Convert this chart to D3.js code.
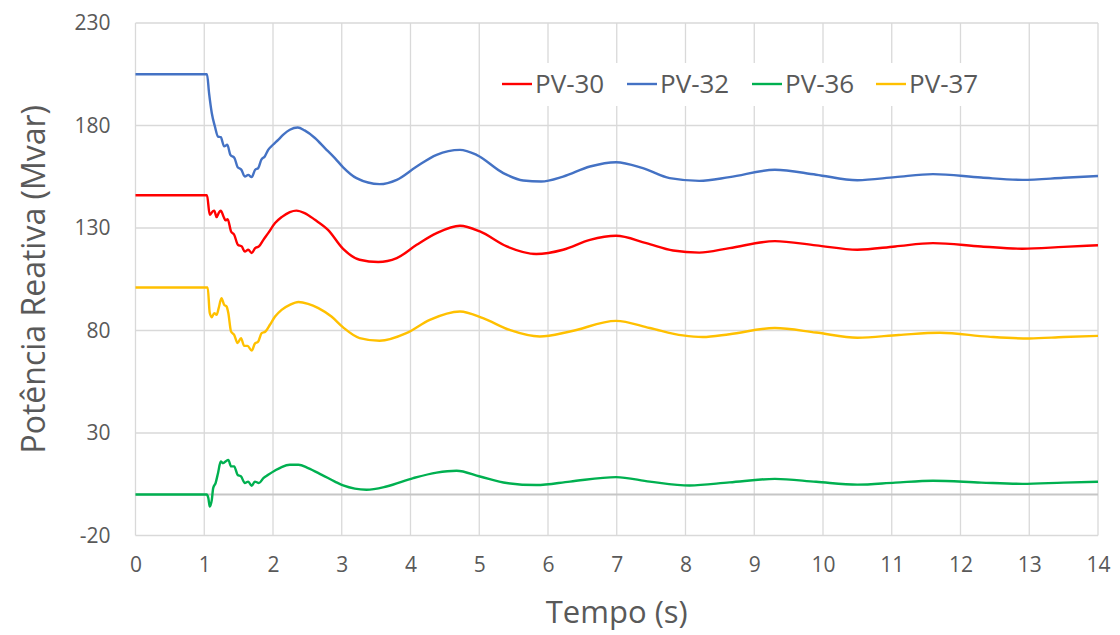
<!DOCTYPE html>
<html lang="pt">
<meta charset="UTF-8">
<style>
    body { margin:0; background:#fff; overflow:hidden; }
    svg { display:block; }
    .grid line { stroke:#d9d9d9; stroke-width:1.3; }
    .axis text { fill:#595959; }
    text.title { fill:#595959; font-family:"Open Sans",sans-serif; }
    text.legend { fill:#595959; font-family:"Open Sans",sans-serif; font-size:26px; }
    .series { fill:none; stroke-width:2.4; stroke-linejoin:round; }
</style>
<body>
<div id="chart"></div>
<script src="https://cdn.jsdelivr.net/npm/d3@7"></script>
<script>
    // tick values
    var xTicks = d3.range(0, 15);
    var yTicks = [-20, 30, 80, 130, 180, 230];

    var seriesNames = ["PV-30", "PV-32", "PV-36", "PV-37"];
    var seriesColors = ["#ff0000", "#4472c4", "#00b050", "#ffc000"];

    // [tempo (s), Mvar]
    var pv30 = [[0,146],[1.04,146],[1.08,136.4],[1.12,138],[1.145,138.5],[1.18,135.3],[1.21,137.3],[1.24,138.5],
        [1.28,135.6],[1.31,133.7],[1.34,134.3],[1.39,128.3],[1.435,126.7],[1.49,121.8],[1.545,121],[1.59,118.5],
        [1.64,119.4],[1.69,117.8],[1.74,120.2],[1.795,121],[1.86,124.2],[1.93,127.5],[2.03,132.4],[2.125,135.3],
        [2.245,137.8],[2.34,138.5],[2.46,137.3],[2.61,134],[2.8,129.1],[3.02,119.8],[3.26,114.5],[3.53,113.4],
        [3.8,115.3],[4.09,121.8],[4.38,127.5],[4.72,131.1],[5.01,128.3],[5.4,121],[5.83,117.3],[6.22,119.4],
        [6.61,124.2],[6.99,126.2],[7.43,122.6],[7.82,119],[8.2,118],[8.64,120.2],[9.3,123.6],[9.9,121.5],
        [10.5,119.4],[11.05,121],[11.6,122.6],[12.3,121],[12.9,119.9],[13.5,120.8],[14,121.6]];

    var pv32 = [[0,205],[1.04,205],[1.07,195.8],[1.11,186],[1.155,179.5],[1.2,174.6],[1.24,174.3],[1.29,169.8],
        [1.335,170.6],[1.38,165.7],[1.44,164.1],[1.485,159.7],[1.54,158.4],[1.59,155.1],[1.64,155.9],[1.69,154.8],
        [1.74,158.4],[1.785,159.2],[1.83,163.3],[1.88,164.9],[1.93,168.1],[2,170.6],[2.075,173],[2.15,175.5],
        [2.245,177.9],[2.36,179],[2.46,177.6],[2.61,173.9],[2.755,169],[2.9,164.1],[3.02,159.6],[3.215,154.3],
        [3.55,151.4],[3.8,153.5],[4.09,160],[4.38,165.7],[4.72,168.1],[4.96,165.7],[5.35,156.8],[5.64,153.2],
        [5.9,152.7],[6.22,155.1],[6.61,160],[6.99,162.1],[7.38,159.2],[7.77,154.3],[8.2,153],[8.64,154.8],
        [9.3,158.4],[9.9,156],[10.5,153.3],[11.05,154.8],[11.6,156.3],[12.3,154.6],[12.9,153.5],[13.5,154.5],[14,155.4]];

    var pv36 = [[0,0],[1.035,0],[1.06,-1.8],[1.08,-5.9],[1.11,-2.6],[1.13,3.1],[1.165,5.6],[1.2,10.4],
        [1.24,16.1],[1.275,15.3],[1.31,16.1],[1.35,16.9],[1.39,13.7],[1.435,13.7],[1.485,9.6],[1.535,8.8],
        [1.59,5.6],[1.64,6.3],[1.69,4.2],[1.735,6.3],[1.795,5.6],[1.86,8],[1.93,9.6],[2.03,11.7],[2.125,13.4],
        [2.245,14.5],[2.37,14.5],[2.51,12.9],[2.71,9.6],[2.9,6.3],[3.02,4.4],[3.36,2.3],[3.65,3.9],[4.04,8],
        [4.38,10.7],[4.67,11.6],[5.01,8.8],[5.4,5.6],[5.83,4.6],[6.32,6.3],[6.99,8.5],[7.48,6.3],[8.06,4.4],
        [8.64,5.9],[9.3,7.6],[9.9,6.2],[10.5,4.8],[11.05,5.8],[11.6,6.7],[12.3,5.8],[12.9,5.2],[13.5,5.8],[14,6.2]];

    var pv37 = [[0,101],[1.05,101],[1.08,88.5],[1.11,86.5],[1.145,88.5],[1.18,87.7],[1.21,90.9],[1.25,95.8],
        [1.29,92.5],[1.325,91.7],[1.35,88.5],[1.39,79.5],[1.435,77.9],[1.485,73.9],[1.535,76.3],[1.58,72.5],
        [1.63,72.5],[1.69,70.2],[1.735,73.5],[1.785,74.6],[1.835,78.7],[1.89,79.5],[1.955,82.8],[2.03,86.8],
        [2.125,90.1],[2.245,92.5],[2.37,93.9],[2.51,93],[2.66,90.9],[2.85,86.8],[3.02,81.5],[3.26,76.3],
        [3.55,75],[3.94,78.7],[4.28,85.2],[4.72,89.3],[5.055,86],[5.44,80.3],[5.88,77.1],[6.32,79.5],
        [6.99,84.7],[7.48,81.2],[7.96,77.6],[8.25,76.8],[8.64,78.2],[9.3,81.2],[9.9,79],[10.5,76.5],
        [11.1,77.8],[11.7,78.9],[12.4,77],[13,76.1],[13.5,76.8],[14,77.4]];

    var allSeries = [pv30, pv32, pv36, pv37];

    var width = 1120, height = 635;
    var margin = {top:23, right:22, bottom:99.5, left:135.5};
    var innerWidth = width - margin.left - margin.right;
    var innerHeight = height - margin.top - margin.bottom;

    var svg = d3.select("#chart").append("svg")
        .attr("width", width)
        .attr("height", height);

    var g = svg.append("g")
        .attr("transform", "translate(" + margin.left + "," + margin.top + ")");

    var x = d3.scaleLinear().domain([0, 14]).range([0, innerWidth]);
    var y = d3.scaleLinear().domain([-20, 230]).range([innerHeight, 0]);

    // gridlines
    g.append("g")
        .attr("class", "grid")
        .selectAll("line")
        .data(xTicks)
        .enter().append("line")
        .attr("x1", x).attr("x2", x)
        .attr("y1", 0).attr("y2", innerHeight);

    g.append("g")
        .attr("class", "grid")
        .selectAll("line")
        .data(yTicks)
        .enter().append("line")
        .attr("x1", 0).attr("x2", innerWidth)
        .attr("y1", y).attr("y2", y);

    // horizontal axis line at zero
    g.append("line")
        .attr("x1", 0).attr("x2", innerWidth)
        .attr("y1", y(0)).attr("y2", y(0))
        .attr("stroke", "#c6c6c6")
        .attr("stroke-width", 1.8);

    // tick labels
    var xAxis = g.append("g")
        .attr("class", "axis")
        .attr("transform", "translate(0," + innerHeight + ")")
        .call(d3.axisBottom(x).tickValues(xTicks).tickSize(0).tickPadding(22).tickFormat(function(d){ return String(d); }))
        .attr("font-size", 21)
        .attr("font-family", "Open Sans, sans-serif");
    xAxis.select(".domain").remove();

    var yAxis = g.append("g")
        .attr("class", "axis")
        .call(d3.axisLeft(y).tickValues(yTicks).tickSize(0).tickPadding(25).tickFormat(function(d){ return String(d); }))
        .attr("font-size", 21)
        .attr("font-family", "Open Sans, sans-serif");
    yAxis.select(".domain").remove();

    // legend box (white, hides gridlines behind it)
    svg.append("rect")
        .attr("x", 492).attr("y", 63)
        .attr("width", 498).attr("height", 43)
        .attr("fill", "#fff");

    var line = d3.line()
        .x(function(d){ return x(d[0]); })
        .y(function(d){ return y(d[1]); })
        .curve(d3.curveMonotoneX);

    g.selectAll("path.series")
        .data(allSeries)
        .enter().append("path")
        .attr("class", "series")
        .attr("stroke", function(d, i){ return seriesColors[i]; })
        .attr("d", line);

    // axis titles
    svg.append("text")
        .attr("class", "title")
        .attr("x", margin.left + innerWidth / 2)
        .attr("y", 623)
        .attr("text-anchor", "middle")
        .style("font-size", "31px")
        .text("Tempo (s)");

    svg.append("text")
        .attr("class", "title")
        .attr("transform", "translate(45," + (margin.top + innerHeight / 2) + ") rotate(-90)")
        .attr("text-anchor", "middle")
        .style("font-size", "32px")
        .text("Potência Reativa (Mvar)");

    // legend
    var legendX = [502, 627, 752, 876];
    var legend = svg.selectAll("g.legend")
        .data(seriesNames)
        .enter().append("g")
        .attr("class", "legend")
        .attr("transform", function(d, i){ return "translate(" + legendX[i] + ",84)"; });

    legend.append("line")
        .attr("x1", 0).attr("x2", 30)
        .attr("stroke", function(d, i){ return seriesColors[i]; })
        .attr("stroke-width", 2.4);

    legend.append("text")
        .attr("class", "legend")
        .attr("x", 33)
        .attr("dy", "0.35em")
        .text(function(d){ return d; });
</script>
</body>
</html>
